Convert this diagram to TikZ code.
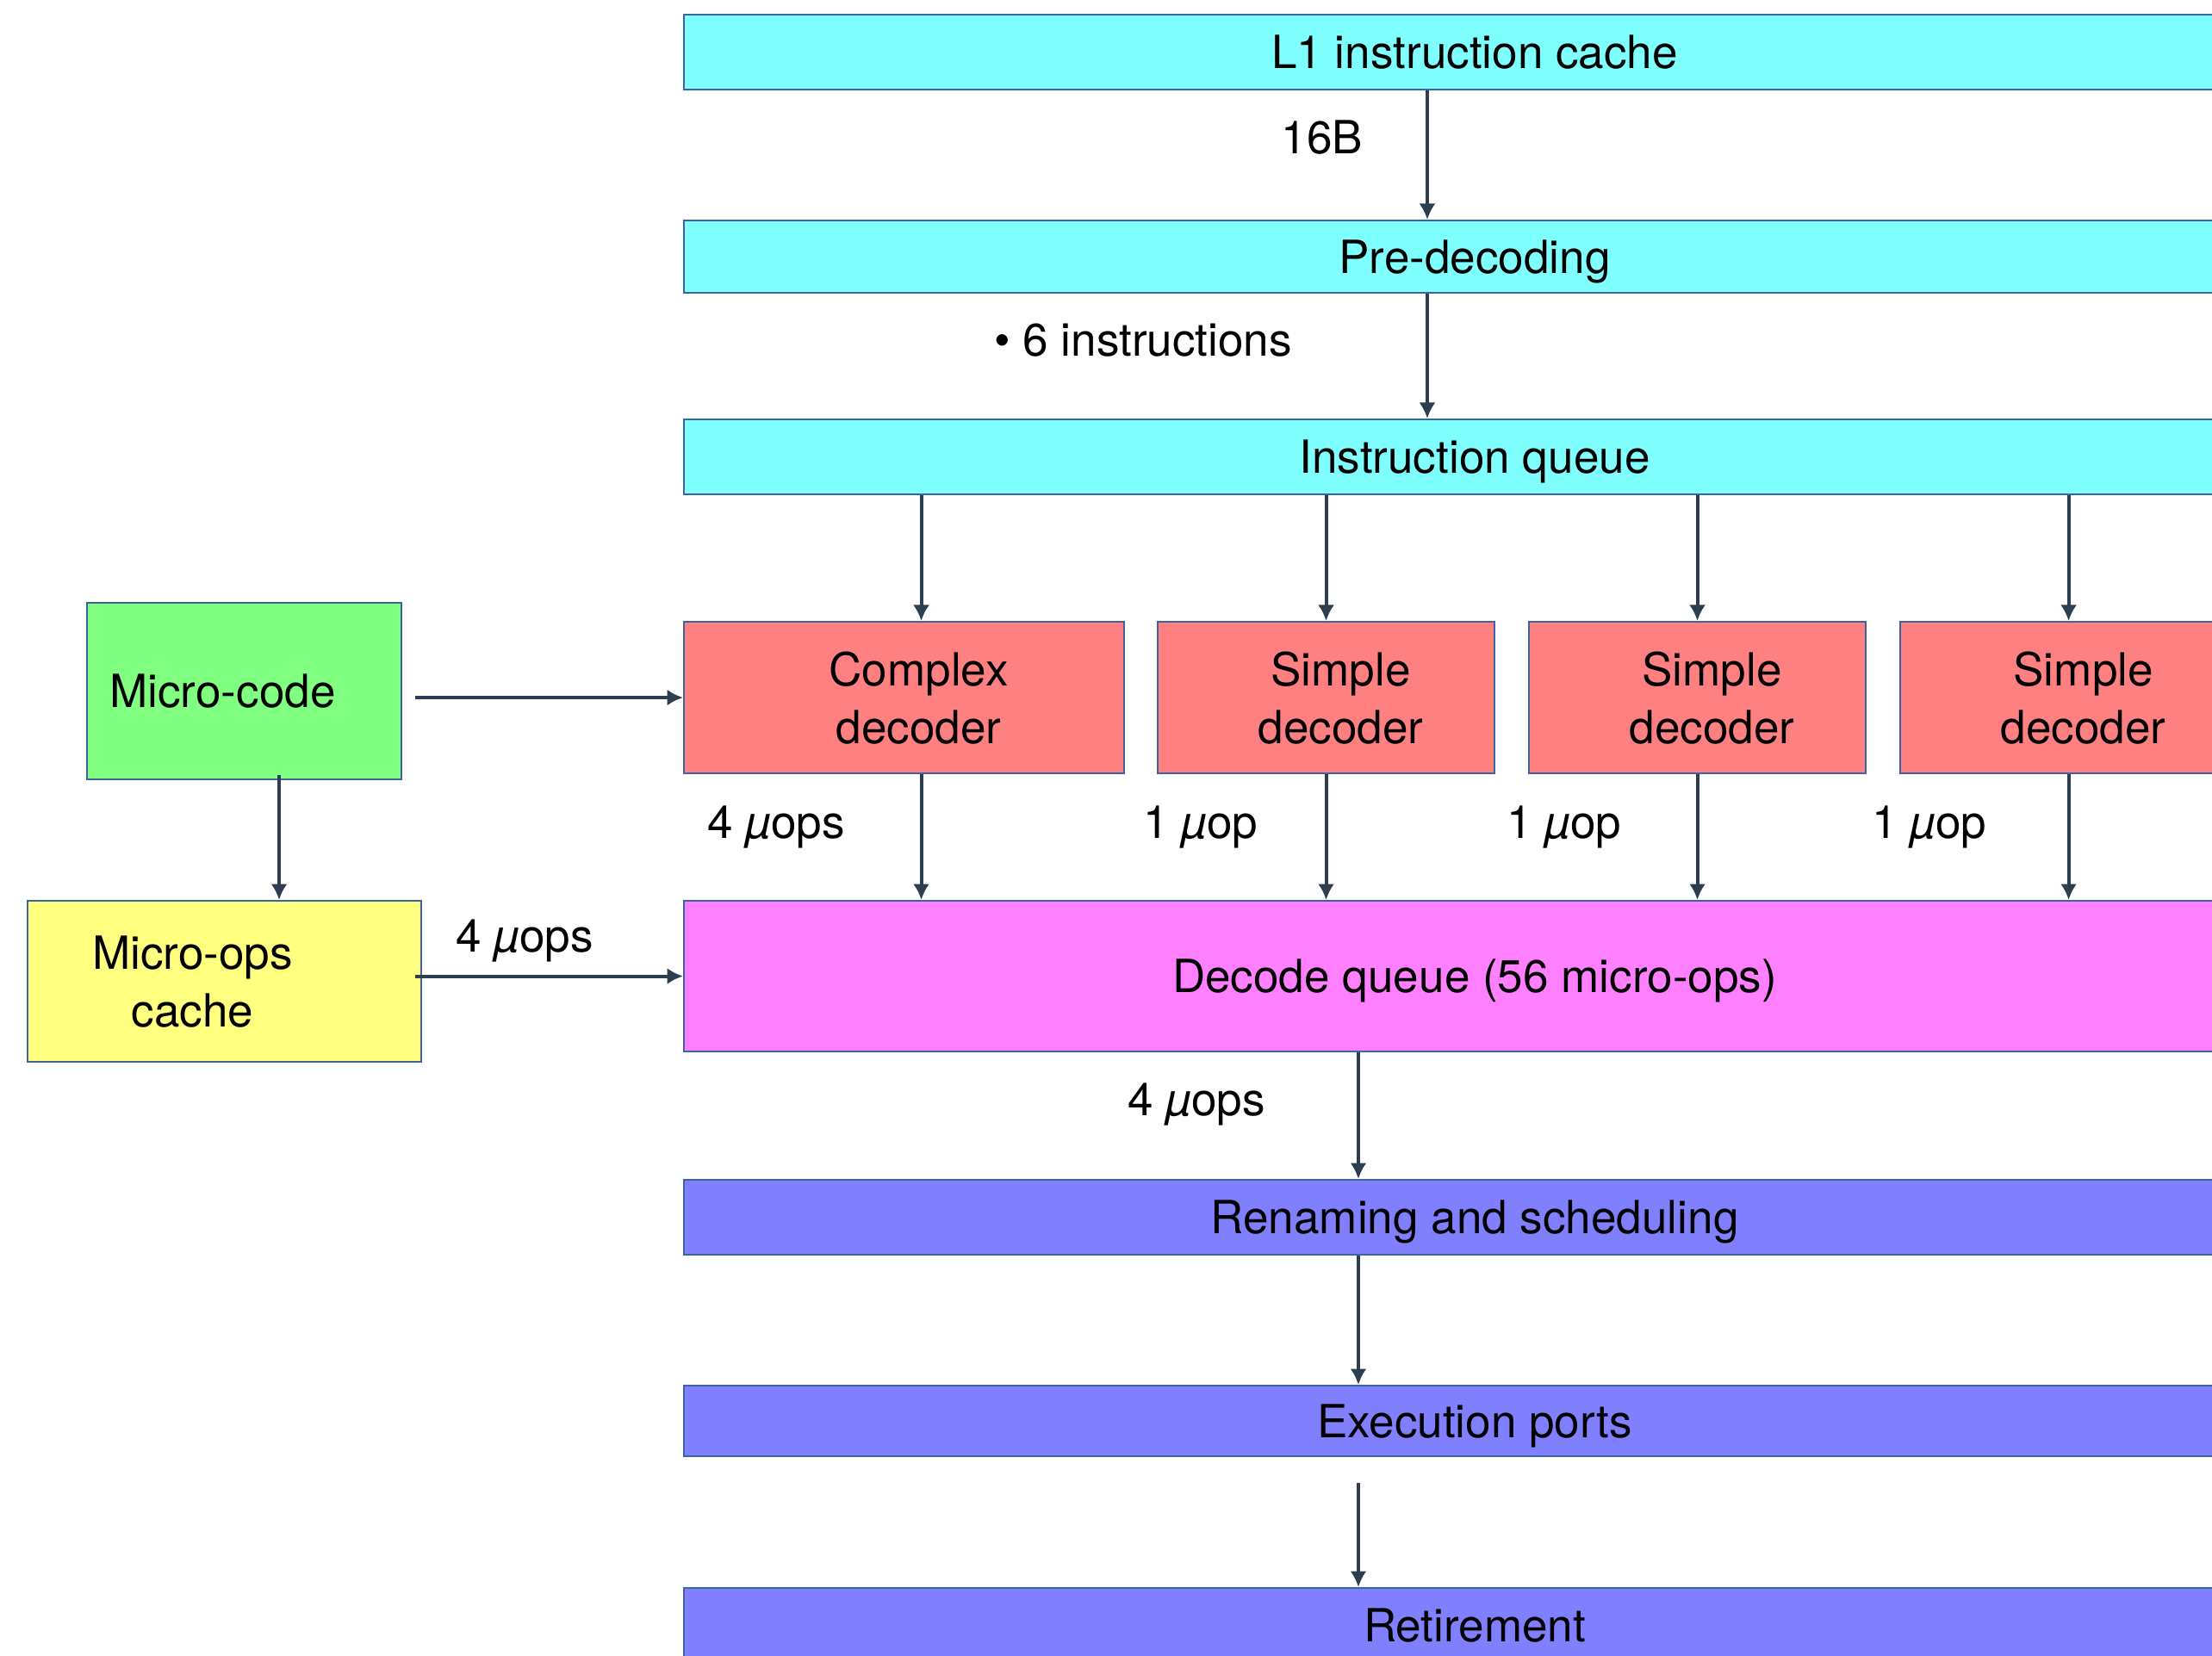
\documentclass[tikz,border=0pt]{standalone}
\usepackage{fontspec}
\setmainfont{TeX Gyre Heros}
\usetikzlibrary{arrows.meta, positioning}

\definecolor{boxline}{RGB}{60,100,165}
\definecolor{arrowcol}{RGB}{44,62,80}
\definecolor{cyanbox}{RGB}{128,255,255}
\definecolor{redbox}{RGB}{255,128,128}
\definecolor{pinkbox}{RGB}{255,128,255}
\definecolor{bluebox}{RGB}{128,128,255}
\definecolor{greenbox}{RGB}{128,255,128}
\definecolor{yellowbox}{RGB}{255,255,128}

\tikzset{
    box/.style={draw=boxline, line width=0.6pt, anchor=north west, inner sep=0pt, align=center},
    wide/.style={box, minimum width=18.36cm},
    dec/.style={box, fill=redbox, minimum height=1.76cm},
    arr/.style={->, draw=arrowcol, line width=1.15pt}
}

\begin{document}
\begin{tikzpicture}[>={Latex[length=1.85mm,width=1.9mm]}, font=\fontsize{15.1}{19}\selectfont,
    every node/.append style={text depth=0pt}]
    \useasboundingbox (0,0) rectangle (25.68,-19.23);
    \clip (0,0) rectangle (25.68,-19.23);

    % Các khối chính
    \node[wide, fill=cyanbox, minimum height=0.87cm] (l1) at (7.93,-0.16) {L1 instruction cache};
    \node[wide, fill=cyanbox, minimum height=0.84cm] (pre) at (7.93,-2.55) {Pre-decoding};
    \node[wide, fill=cyanbox, minimum height=0.87cm] (iq) at (7.93,-4.86) {Instruction queue};
    \node[wide, fill=pinkbox, minimum height=1.75cm] (dq) at (7.93,-10.45) {Decode queue (56 micro-ops)};
    \node[wide, fill=bluebox, minimum height=0.87cm] (ren) at (7.93,-13.69) {Renaming and scheduling};
    \node[wide, fill=bluebox, minimum height=0.82cm] (exe) at (7.93,-16.08) {Execution ports};
    \node[wide, fill=bluebox, minimum height=0.87cm] (ret) at (7.93,-18.43) {Retirement};

    % Bộ giải mã
    \node[dec, minimum width=5.11cm, label={[name=cplx-t, xshift=0.17cm, align=center]center:Complex\\decoder}] (cplx) at (7.93,-7.21) {};
    \node[dec, minimum width=3.91cm, label={[name=s1-t, xshift=0.17cm, align=center]center:Simple\\decoder}] (s1) at (13.43,-7.21) {};
    \node[dec, minimum width=3.91cm, label={[name=s2-t, xshift=0.17cm, align=center]center:Simple\\decoder}] (s2) at (17.74,-7.21) {};
    \node[dec, minimum width=3.91cm, label={[name=s3-t, xshift=0.17cm, align=center]center:Simple\\decoder}] (s3) at (22.05,-7.21) {};

    % Micro-code và micro-ops cache
    \node[box, fill=greenbox, minimum width=3.65cm, minimum height=2.05cm, label={[name=mcode-t, xshift=-0.25cm]center:Micro-code}] (mcode) at (1.00,-6.99) {};
    \node[box, fill=yellowbox, minimum width=4.57cm, minimum height=1.87cm, label={[name=cache-t, xshift=-0.37cm, align=center]center:Micro-ops\\cache}] (cache) at (0.31,-10.45) {};

    % Mũi tên
    \coordinate (c16) at (16.57,0);
    \coordinate (c15) at (15.77,0);
    \draw[arr] (c16 |- l1.south) -- (c16 |- pre.north);
    \draw[arr] (c16 |- pre.south) -- (c16 |- iq.north);
    \draw[arr] ([xshift=0.2cm]cplx.north |- iq.south) -- ([xshift=0.2cm]cplx.north);
    \draw[arr] ([xshift=0.2cm]cplx.south) -- ([xshift=0.2cm]cplx.south |- dq.north);
    \foreach \d in {s1,s2,s3} {
        \draw[arr] (iq.south -| \d.north) -- (\d.north);
        \draw[arr] (\d.south) -- (\d.south |- dq.north);
    }
    \draw[arr] ([xshift=0.15cm]mcode.east |- cplx.west) -- (cplx.west);
    \draw[arr] ([xshift=0.405cm,yshift=0.06cm]mcode.south) -- ([xshift=0.405cm]mcode.south |- cache.north);
    \draw[arr] ([xshift=-0.08cm]cache.east |- dq.west) -- (dq.west);
    \draw[arr] (c15 |- dq.south) -- (c15 |- ren.north);
    \draw[arr] (c15 |- ren.south) -- (c15 |- exe.north);
    \draw[arr] ([yshift=-0.3cm]c15 |- exe.south) -- (c15 |- ret.north);

    % Nhãn
    \node (b16) at (15.35,-1.59) {16B};
    \node (ins6) at (13.27,-3.95) {• 6 instructions};
    \node (u4a) at (9.01,-9.55) {4 {\itshape µ}ops};
    \node (u1a) at (13.94,-9.55) {1 {\itshape µ}op};
    \node (u1b) at (18.16,-9.55) {1 {\itshape µ}op};
    \node (u1c) at (22.40,-9.55) {1 {\itshape µ}op};
    \node (u4b) at (6.09,-10.87) {4 {\itshape µ}ops};
    \node (u4c) at (13.89,-12.77) {4 {\itshape µ}ops};
\end{tikzpicture}
\end{document}
